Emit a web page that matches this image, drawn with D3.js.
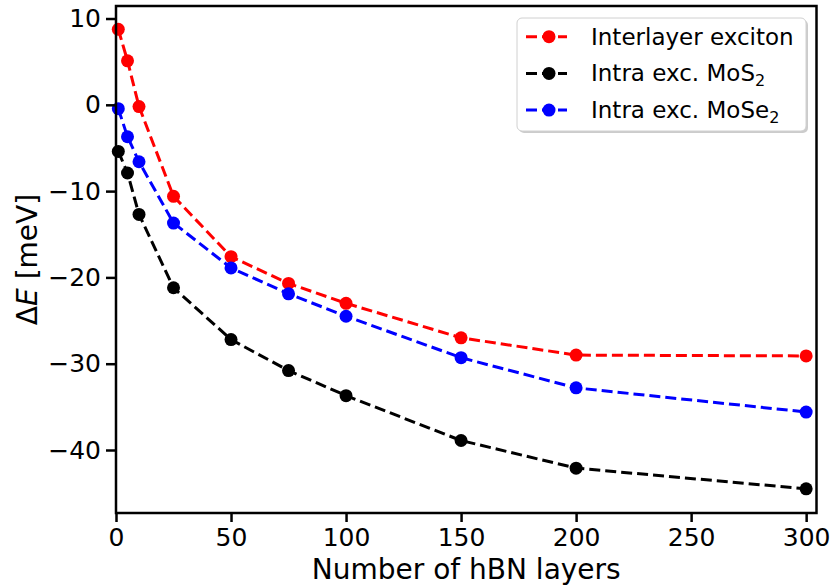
<!DOCTYPE html>
<html>
<head>
<meta charset="utf-8">
<script src="https://d3js.org/d3.v7.min.js"></script>
<style>
    body { margin: 0; background: #fff; }
    text { font-family: "DejaVu Sans", sans-serif; }
</style>
</head>
<body>
<div id="chart"></div>
<script>
    const width = 832;
    const height = 588;

    // hBN layer counts and energy shifts (meV)
    const layers = [1, 5, 10, 25, 50, 75, 100, 150, 200, 300];
    const interlayer = [8.75, 5.1, -0.2, -10.6, -17.6, -20.7, -23.0, -27.0, -29.0, -29.1];
    const intraMoS2 = [-5.4, -7.9, -12.7, -21.2, -27.2, -30.8, -33.7, -38.9, -42.1, -44.5];
    const intraMoSe2 = [-0.45, -3.7, -6.6, -13.7, -18.9, -21.9, -24.5, -29.3, -32.8, -35.6];

    const xTicks = [0, 50, 100, 150, 200, 250, 300];
    const yTicks = [10, 0, -10, -20, -30, -40];

    const series = [
        {name: "Interlayer exciton", sub: null, values: interlayer, color: "#ff0000"},
        {name: "Intra exc. MoS", sub: "2", values: intraMoS2, color: "#000000"},
        {name: "Intra exc. MoSe", sub: "2", values: intraMoSe2, color: "#0000ff"}
    ];

    const plot = {left: 116, right: 816.5, top: 6, bottom: 513};

    const x = d3.scaleLinear().domain([0, 304.5]).range([plot.left, plot.right]);
    const y = d3.scaleLinear().domain([-47.3, 11.45]).range([plot.bottom, plot.top]);

    const svg = d3.select("#chart")
        .append("svg")
        .attr("width", width)
        .attr("height", height);

    // Lines and markers
    const line = d3.line()
        .x(d => x(d[0]))
        .y(d => y(d[1]));

    for (const s of series) {
        const pts = layers.map((l, i) => [l, s.values[i]]);
        svg.append("path")
            .datum(pts)
            .attr("d", line)
            .attr("fill", "none")
            .attr("stroke", s.color)
            .attr("stroke-width", 3)
            .attr("stroke-dasharray", "11,5");
        svg.append("g")
            .selectAll("circle")
            .data(pts)
            .enter()
            .append("circle")
            .attr("cx", d => x(d[0]))
            .attr("cy", d => y(d[1]))
            .attr("r", 6.5)
            .attr("fill", s.color);
    }

    // Axes
    const xAxis = svg.append("g")
        .attr("transform", `translate(0,${plot.bottom})`)
        .call(d3.axisBottom(x).tickValues(xTicks).tickSize(9).tickPadding(6));
    const yAxis = svg.append("g")
        .attr("transform", `translate(${plot.left},0)`)
        .call(d3.axisLeft(y).tickValues(yTicks).tickSize(10).tickPadding(5));

    for (const ax of [xAxis, yAxis]) {
        ax.select(".domain").remove();
        ax.selectAll(".tick line").attr("stroke", "#000").attr("stroke-width", 2.5);
        ax.selectAll(".tick text")
            .attr("fill", "#000")
            .style("font-family", "DejaVu Sans")
            .style("font-size", "25px");
    }

    // Frame
    svg.append("rect")
        .attr("x", plot.left)
        .attr("y", plot.top)
        .attr("width", plot.right - plot.left)
        .attr("height", plot.bottom - plot.top)
        .attr("fill", "none")
        .attr("stroke", "#000")
        .attr("stroke-width", 2.5);

    // Axis labels
    svg.append("text")
        .attr("x", (plot.left + plot.right) / 2)
        .attr("y", 579)
        .attr("text-anchor", "middle")
        .style("font-size", "28px")
        .text("Number of hBN layers");

    const yl = svg.append("text")
        .attr("transform", `translate(37,${(plot.top + plot.bottom) / 2}) rotate(-90)`)
        .attr("text-anchor", "middle")
        .style("font-size", "28px");
    yl.append("tspan").text("Δ");
    yl.append("tspan").style("font-style", "italic").text("E");
    yl.append("tspan").text(" [meV]");

    // Legend
    const lg = svg.append("g");
    lg.append("rect")
        .attr("x", 519).attr("y", 20)
        .attr("width", 289).attr("height", 113)
        .attr("rx", 5)
        .attr("fill", "#999")
        .attr("opacity", 0.5);
    lg.append("rect")
        .attr("x", 517).attr("y", 18)
        .attr("width", 289).attr("height", 113)
        .attr("rx", 5)
        .attr("fill", "#fff")
        .attr("stroke", "#d0d0d0")
        .attr("stroke-width", 1);

    series.forEach((s, i) => {
        const cy = 36.7 + i * 36.7;
        lg.append("line")
            .attr("x1", 526).attr("x2", 567)
            .attr("y1", cy).attr("y2", cy)
            .attr("stroke", s.color)
            .attr("stroke-width", 3)
            .attr("stroke-dasharray", "11,5");
        lg.append("circle")
            .attr("cx", 549).attr("cy", cy)
            .attr("r", 6.5)
            .attr("fill", s.color);
        const t = lg.append("text")
            .attr("x", 591)
            .attr("y", cy + 8)
            .style("font-size", "23px")
            .text(s.name);
        if (s.sub) {
            t.append("tspan")
                .attr("dy", 5)
                .style("font-size", "16px")
                .text(s.sub);
        }
    });
</script>
</body>
</html>
